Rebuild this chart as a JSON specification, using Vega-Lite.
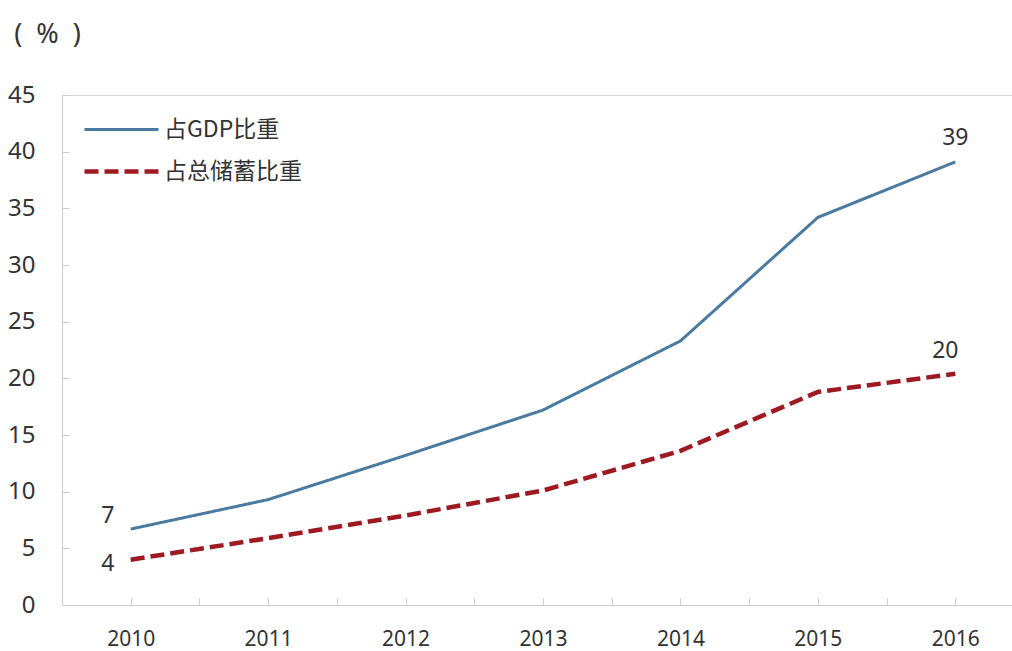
{
  "$schema": "https://vega.github.io/schema/vega-lite/v6.json",
  "autosize": "none",
  "padding": {"left": 62, "top": 95, "right": 0, "bottom": 46},
  "width": 962,
  "height": 510,
  "background": "white",
  "config": {
    "view": {"stroke": "#d9d9d9", "strokeWidth": 1},
    "font": "Noto Sans",
    "axis": {"grid": false, "domainColor": "#cccccc", "tickColor": "#cccccc", "labelColor": "#333333", "labelFont": "Noto Sans"}
  },
  "data": {
    "values": [
      {"year": 2010, "series": "占GDP比重", "value": 6.7},
      {"year": 2011, "series": "占GDP比重", "value": 9.3},
      {"year": 2012, "series": "占GDP比重", "value": 13.2},
      {"year": 2013, "series": "占GDP比重", "value": 17.2},
      {"year": 2014, "series": "占GDP比重", "value": 23.3},
      {"year": 2015, "series": "占GDP比重", "value": 34.2},
      {"year": 2016, "series": "占GDP比重", "value": 39.1},
      {"year": 2010, "series": "占总储蓄比重", "value": 4.0},
      {"year": 2011, "series": "占总储蓄比重", "value": 5.9},
      {"year": 2012, "series": "占总储蓄比重", "value": 7.9},
      {"year": 2013, "series": "占总储蓄比重", "value": 10.1},
      {"year": 2014, "series": "占总储蓄比重", "value": 13.6},
      {"year": 2015, "series": "占总储蓄比重", "value": 18.8},
      {"year": 2016, "series": "占总储蓄比重", "value": 20.4}
    ]
  },
  "layer": [
    {
      "mark": {"type": "line", "strokeCap": "butt"},
      "encoding": {
        "x": {
          "field": "year", "type": "quantitative",
          "scale": {"domain": [2009.5, 2016.5], "nice": false, "zero": false},
          "axis": {
            "title": null,
            "values": [2009.5, 2010, 2010.5, 2011, 2011.5, 2012, 2012.5, 2013, 2013.5, 2014, 2014.5, 2015, 2015.5, 2016, 2016.5],
            "labelExpr": "datum.value % 1 == 0 ? datum.value : ''",
            "tickSize": -7,
            "labelPadding": 30,
            "labelFontSize": 21,
            "labelFlush": false,
            "labelOverlap": false
          }
        },
        "y": {
          "field": "value", "type": "quantitative",
          "scale": {"domain": [0, 45], "nice": false},
          "axis": {
            "values": [0, 5, 10, 15, 20, 25, 30, 35, 40, 45],
            "tickSize": -7,
            "labelPadding": 34,
            "labelFontSize": 24,
            "title": "(\u00a0\u00a0%\u00a0\u00a0)",
            "titleAngle": 0,
            "titleAlign": "center",
            "titleBaseline": "middle",
            "titleX": -15,
            "titleY": -61,
            "titleFontSize": 27,
            "titleFontWeight": "normal",
            "titleColor": "#333333",
            "titleFont": "Noto Sans"
          }
        },
        "color": {
          "field": "series", "type": "nominal",
          "scale": {"domain": ["占GDP比重", "占总储蓄比重"], "range": ["#4a7aa0", "#9e1a22"]},
          "legend": {
            "title": null,
            "orient": "none",
            "legendX": 48,
            "legendY": 23,
            "symbolType": "M-4,0H4",
            "symbolSize": 342,
            "symbolStrokeWidth": 4,
            "labelFont": "Noto Sans CJK SC",
            "labelFontSize": 23,
            "labelColor": "#333333",
            "labelOffset": 31,
            "rowPadding": 18
          }
        },
        "strokeDash": {
          "field": "series", "type": "nominal",
          "scale": {"domain": ["占GDP比重", "占总储蓄比重"], "range": [[1, 0], [14, 6]]},
          "legend": null
        },
        "strokeWidth": {
          "field": "series", "type": "nominal",
          "scale": {"domain": ["占GDP比重", "占总储蓄比重"], "range": [3, 4.5]},
          "legend": null
        }
      }
    },
    {
      "transform": [{"filter": "datum.year == 2010 && datum.series == '占GDP比重'"}],
      "mark": {"type": "text", "dx": -23, "dy": -13, "fontSize": 23, "color": "#333333", "font": "Noto Sans"},
      "encoding": {"x": {"field": "year", "type": "quantitative"}, "y": {"field": "value", "type": "quantitative"}, "text": {"field": "value", "format": ".0f"}}
    },
    {
      "transform": [{"filter": "datum.year == 2010 && datum.series == '占总储蓄比重'"}],
      "mark": {"type": "text", "dx": -23, "dy": 4, "fontSize": 23, "color": "#333333", "font": "Noto Sans"},
      "encoding": {"x": {"field": "year", "type": "quantitative"}, "y": {"field": "value", "type": "quantitative"}, "text": {"field": "value", "format": ".0f"}}
    },
    {
      "transform": [{"filter": "datum.year == 2016 && datum.series == '占GDP比重'"}],
      "mark": {"type": "text", "dx": 0, "dy": -24, "fontSize": 23, "color": "#333333", "font": "Noto Sans"},
      "encoding": {"x": {"field": "year", "type": "quantitative"}, "y": {"field": "value", "type": "quantitative"}, "text": {"field": "value", "format": ".0f"}}
    },
    {
      "transform": [{"filter": "datum.year == 2016 && datum.series == '占总储蓄比重'"}],
      "mark": {"type": "text", "dx": -10, "dy": -23, "fontSize": 23, "color": "#333333", "font": "Noto Sans"},
      "encoding": {"x": {"field": "year", "type": "quantitative"}, "y": {"field": "value", "type": "quantitative"}, "text": {"field": "value", "format": ".0f"}}
    }
  ]
}
